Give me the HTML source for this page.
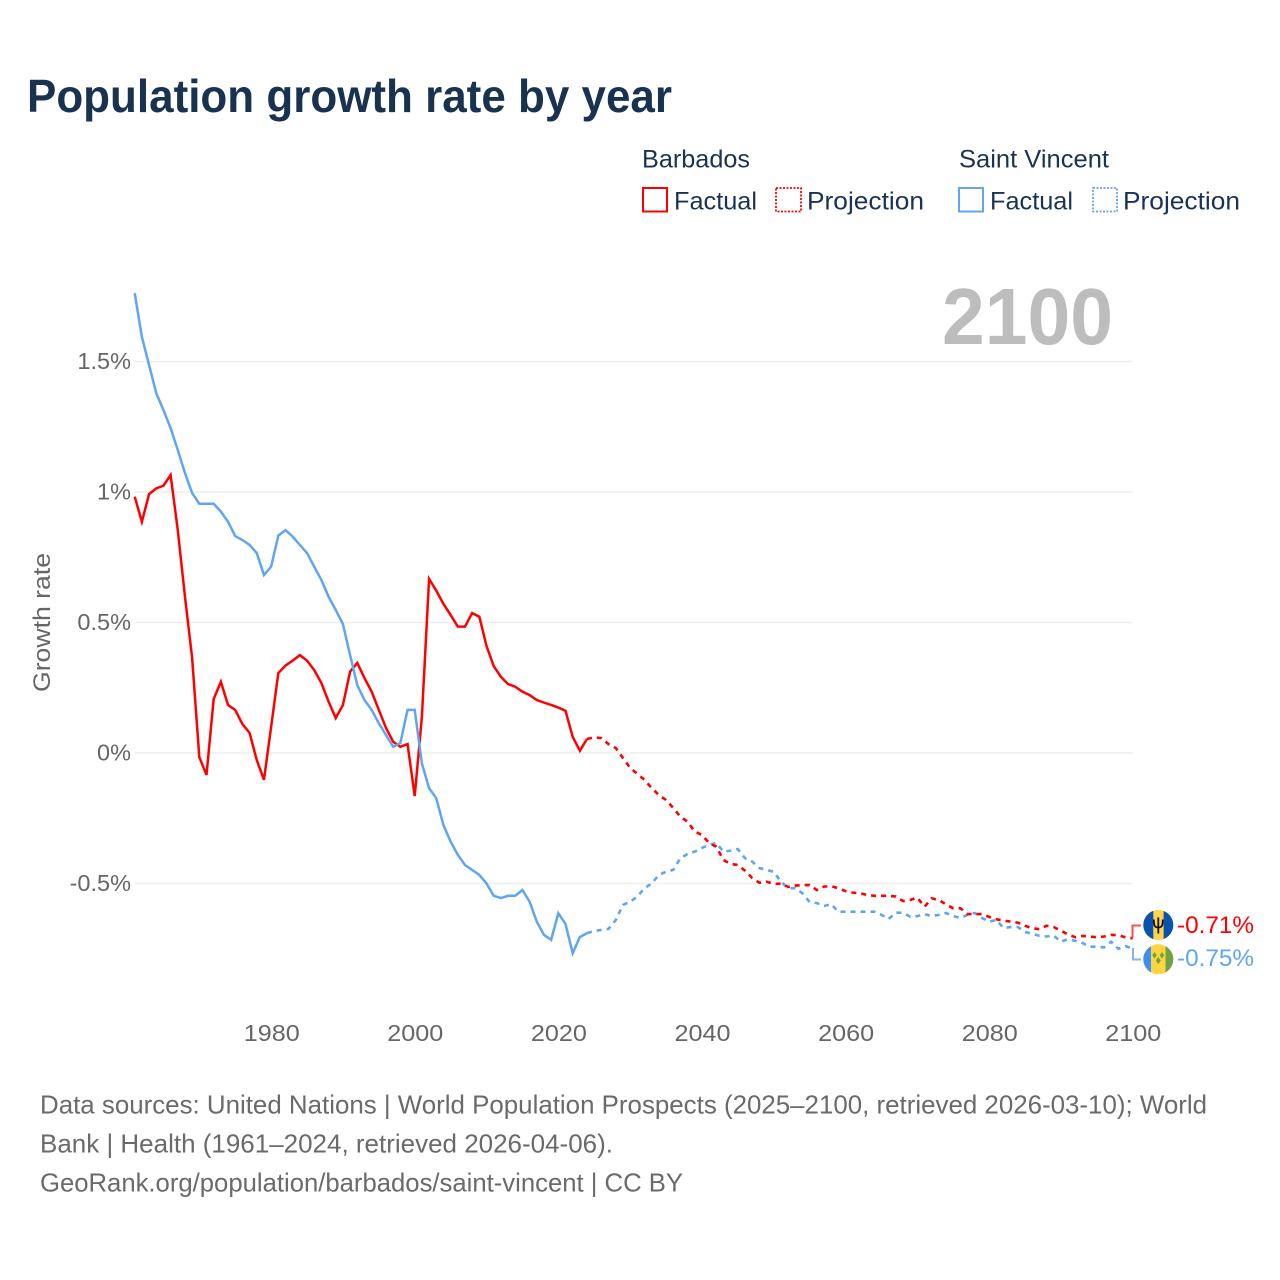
<!DOCTYPE html>
<html lang="en">
<head>
<meta charset="utf-8">
<title>Population growth rate by year</title>
<style>
  html, body { margin: 0; padding: 0; background: #fff; }
  svg { display: block; }
  text { font-family: "Liberation Sans", sans-serif; }
  .legend-text { fill: #1b3253; font-size: 25px; }
  .tick { fill: #666; font-size: 23.5px; }
  .foot { fill: #6a6a6a; font-size: 26px; }
</style>
</head>
<body>
<svg id="chart" xmlns="http://www.w3.org/2000/svg" width="1280" height="1280" viewBox="0 0 1280 1280">
  <rect x="0" y="0" width="1280" height="1280" fill="#fff"/>
  <text x="27" y="112" font-size="46" font-weight="700" fill="#18324f" textLength="645" lengthAdjust="spacingAndGlyphs">Population growth rate by year</text>

  <g>
    <text class="legend-text" x="642" y="167.500" textLength="108" lengthAdjust="spacingAndGlyphs">Barbados</text>
    <text class="legend-text" x="959" y="167.500" textLength="150" lengthAdjust="spacingAndGlyphs">Saint Vincent</text>
    <rect x="643" y="188" width="24" height="23.500" fill="none" stroke="#ff0000" stroke-width="2"/>
    <text class="legend-text" x="674" y="209.500" textLength="83" lengthAdjust="spacingAndGlyphs">Factual</text>
    <rect x="776" y="188" width="25" height="23.500" fill="none" stroke="#ff0000" stroke-width="1.800" stroke-dasharray="2 1.500"/>
    <text class="legend-text" x="807" y="209.500" textLength="117" lengthAdjust="spacingAndGlyphs">Projection</text>
    <rect x="959" y="188" width="24" height="23.500" fill="none" stroke="#60a5f0" stroke-width="2"/>
    <text class="legend-text" x="990" y="209.500" textLength="83" lengthAdjust="spacingAndGlyphs">Factual</text>
    <rect x="1093" y="188" width="24" height="23.500" fill="none" stroke="#60a5f0" stroke-width="1.800" stroke-dasharray="2 1.500"/>
    <text class="legend-text" x="1123" y="209.500" textLength="117" lengthAdjust="spacingAndGlyphs">Projection</text>
  </g>

  <text x="942" y="344" font-size="80" font-weight="700" fill="#bdbdbd" textLength="171" lengthAdjust="spacingAndGlyphs">2100</text>
  <text x="0" y="0" transform="translate(50 622.500) rotate(-90)" text-anchor="middle" font-size="24" fill="#666" textLength="139" lengthAdjust="spacingAndGlyphs">Growth rate</text>

  <g id="grid"></g>
  <g id="yticks"></g>
  <g id="xticks"></g>
  <g id="series"></g>

  <defs>
    <clipPath id="clip-bb"><circle cx="1158.300" cy="925" r="15"/></clipPath>
    <clipPath id="clip-vc"><circle cx="1158.300" cy="959.300" r="15"/></clipPath>
  </defs>

  <polyline points="1132.500,937 1132.500,925.500 1141,925.500" fill="none" stroke="#ff0000" stroke-opacity="0.7" stroke-width="2"/>
  <polyline points="1133,948 1133,959.500 1141,959.500" fill="none" stroke="#60a5f0" stroke-opacity="0.8" stroke-width="2"/>

  <g clip-path="url(#clip-bb)">
    <rect x="1143" y="910" width="31" height="31" fill="#ffd34d"/>
    <rect x="1143" y="910" width="10.300" height="31" fill="#0a52b0"/>
    <rect x="1163.600" y="910" width="10.300" height="31" fill="#0a52b0"/>
    <path d="M1158.300 917.500 V933.500 M1153.800 919.500 C1153.800 926 1155 927.500 1158.300 927.500 C1161.600 927.500 1162.800 926 1162.800 919.500" fill="none" stroke="#111" stroke-width="1.800"/>
  </g>
  <g clip-path="url(#clip-vc)">
    <rect x="1143" y="944" width="31" height="31" fill="#ffd53f"/>
    <rect x="1143" y="944" width="8" height="31" fill="#3f8ff0"/>
    <rect x="1165.500" y="944" width="9" height="31" fill="#6fa244"/>
    <path d="M1158.300 957 l2.500 3.500 l-2.500 3.500 l-2.500 -3.500 Z M1154.500 952 l2.300 3.300 l-2.300 3.300 l-2.300 -3.300 Z M1162 952 l2.300 3.300 l-2.300 3.300 l-2.300 -3.300 Z" fill="#6fa244"/>
  </g>

  <text x="1177" y="933" font-size="24" fill="#ff0000" textLength="77" lengthAdjust="spacingAndGlyphs">-0.71%</text>
  <text x="1177" y="966" font-size="24" fill="#60a5f0" textLength="77" lengthAdjust="spacingAndGlyphs">-0.75%</text>

  <g>
    <text class="foot" x="40" y="1113.500" textLength="1167" lengthAdjust="spacingAndGlyphs">Data sources: United Nations | World Population Prospects (2025–2100, retrieved 2026-03-10); World</text>
    <text class="foot" x="40" y="1152.500" textLength="573" lengthAdjust="spacingAndGlyphs">Bank | Health (1961–2024, retrieved 2026-04-06).</text>
    <text class="foot" x="40" y="1191.500" textLength="643" lengthAdjust="spacingAndGlyphs">GeoRank.org/population/barbados/saint-vincent | CC BY</text>
  </g>
</svg>

<script>
const startYear = 1961;
const lastFactualYear = 2024;
const yTickValues = [1.5, 1, 0.5, 0, -0.5];
const yTickLabels = ["1.5%", "1%", "0.5%", "0%", "-0.5%"];
const xTickValues = [1980, 2000, 2020, 2040, 2060, 2080, 2100];

const barbadosValues = [
  0.982, 0.886, 0.992, 1.014, 1.024, 1.065, 0.854, 0.599, 0.364, -0.016,
  -0.084, 0.207, 0.273, 0.184, 0.165, 0.111, 0.077, -0.027, -0.103, 0.1,
  0.306, 0.335, 0.354, 0.375, 0.354, 0.318, 0.268, 0.197, 0.134, 0.184,
  0.312, 0.345, 0.287, 0.235, 0.165, 0.096, 0.043, 0.024, 0.034, -0.165,
  0.139, 0.667, 0.622, 0.571, 0.529, 0.484, 0.484, 0.536, 0.522, 0.41,
  0.333, 0.292, 0.264, 0.254, 0.235, 0.222, 0.203, 0.193, 0.184, 0.174,
  0.162, 0.062, 0.009, 0.054,
  0.06, 0.057, 0.034, 0.019, -0.019, -0.057, -0.08, -0.103, -0.134, -0.161,
  -0.18, -0.21, -0.244, -0.263, -0.301, -0.314, -0.345, -0.359, -0.41, -0.425,
  -0.429, -0.451, -0.479, -0.497, -0.493, -0.502, -0.5, -0.513, -0.508, -0.506,
  -0.506, -0.525, -0.512, -0.51, -0.518, -0.529, -0.535, -0.537, -0.544, -0.547,
  -0.547, -0.547, -0.55, -0.567, -0.563, -0.554, -0.589, -0.557, -0.563, -0.58,
  -0.595, -0.595, -0.617, -0.617, -0.617, -0.628, -0.637, -0.642, -0.646, -0.65,
  -0.662, -0.671, -0.675, -0.662, -0.667, -0.681, -0.695, -0.706, -0.701, -0.703,
  -0.706, -0.703, -0.697, -0.698, -0.706, -0.71
];

const saintVincentValues = [
  1.762, 1.594, 1.487, 1.379, 1.314, 1.245, 1.161, 1.073, 0.996, 0.955,
  0.955, 0.955, 0.925, 0.886, 0.831, 0.816, 0.797, 0.766, 0.682, 0.714,
  0.833, 0.854, 0.829, 0.797, 0.766, 0.714, 0.663, 0.599, 0.548, 0.494,
  0.375, 0.26, 0.203, 0.165, 0.114, 0.069, 0.024, 0.038, 0.165, 0.165,
  -0.04, -0.135, -0.173, -0.276, -0.34, -0.39, -0.429, -0.448, -0.467, -0.5,
  -0.547, -0.556, -0.547, -0.547, -0.525, -0.57, -0.646, -0.697, -0.716, -0.614,
  -0.655, -0.767, -0.705, -0.69,
  -0.682, -0.678, -0.674, -0.64, -0.582, -0.57, -0.55, -0.518, -0.5, -0.467,
  -0.455, -0.448, -0.403, -0.387, -0.378, -0.364, -0.352, -0.345, -0.378, -0.374,
  -0.368, -0.403, -0.416, -0.441, -0.448, -0.455, -0.493, -0.518, -0.518, -0.537,
  -0.571, -0.575, -0.586, -0.579, -0.608, -0.608, -0.608, -0.608, -0.608, -0.608,
  -0.62, -0.636, -0.612, -0.612, -0.627, -0.625, -0.617, -0.625, -0.62, -0.613,
  -0.625, -0.632, -0.62, -0.613, -0.632, -0.646, -0.64, -0.67, -0.667, -0.667,
  -0.685, -0.693, -0.7, -0.703, -0.7, -0.723, -0.713, -0.72, -0.728, -0.742,
  -0.742, -0.745, -0.723, -0.75, -0.74, -0.75
];

const SVG_NS = "http://www.w3.org/2000/svg";
const xScale = function (year) { return 134.7 + (year - 1961) * 7.18; };
const yScale = function (value) { return 753 - value * 261; };

const gridGroup = document.getElementById("grid");
const yTickGroup = document.getElementById("yticks");
const xTickGroup = document.getElementById("xticks");
const seriesGroup = document.getElementById("series");

yTickValues.forEach(function (value, i) {
  const line = document.createElementNS(SVG_NS, "line");
  
  
  line.setAttribute("x1", xScale(1961));
  line.setAttribute("x2", xScale(2100));
  line.setAttribute("y1", yScale(value));
  line.setAttribute("y2", yScale(value));
  line.setAttribute("stroke", "#eeeeee");
  line.setAttribute("stroke-width", "1.5");
  gridGroup.appendChild(line);

  const label = document.createElementNS(SVG_NS, "text");
  
  
  label.setAttribute("class", "tick");
  label.setAttribute("x", "131");
  label.setAttribute("y", yScale(value) + 7.5);
  label.setAttribute("text-anchor", "end");
  label.textContent = yTickLabels[i];
  yTickGroup.appendChild(label);
});

xTickValues.forEach(function (year) {
  const label = document.createElementNS(SVG_NS, "text");
  
  
  label.setAttribute("class", "tick");
  label.setAttribute("x", xScale(year) + 0.6);
  label.setAttribute("y", "1041");
  label.setAttribute("text-anchor", "middle");
  label.setAttribute("textLength", "56");
  label.setAttribute("lengthAdjust", "spacingAndGlyphs");
  label.textContent = String(year);
  xTickGroup.appendChild(label);
});

function buildPoints(values, fromYear, toYear) {
  const pts = [];
  values.forEach(function (value, i) {
    const year = startYear + i;
    if (year >= fromYear && year <= toYear) {
      pts.push(xScale(year).toFixed(2) + "," + yScale(value).toFixed(2));
    }
  });
  return pts.join(" ");
}

function drawProjection(values, color) {
  const line = document.createElementNS(SVG_NS, "polyline");
  
  
  line.setAttribute("points", buildPoints(values, lastFactualYear, startYear + values.length - 1));
  line.setAttribute("fill", "none");
  line.setAttribute("stroke", color);
  line.setAttribute("stroke-width", "2.6");
  line.setAttribute("stroke-dasharray", "5 5");
  seriesGroup.appendChild(line);
}

function drawFactual(values, color) {
  const line = document.createElementNS(SVG_NS, "polyline");
  
  
  line.setAttribute("points", buildPoints(values, startYear, lastFactualYear));
  line.setAttribute("fill", "none");
  line.setAttribute("stroke", color);
  line.setAttribute("stroke-width", "2.5");
  seriesGroup.appendChild(line);
}

drawFactual(barbadosValues, "#ff0000");
drawFactual(saintVincentValues, "#60a5f0");
drawProjection(saintVincentValues, "#60a5f0");
drawProjection(barbadosValues, "#ff0000");
</script>
</body>
</html>
